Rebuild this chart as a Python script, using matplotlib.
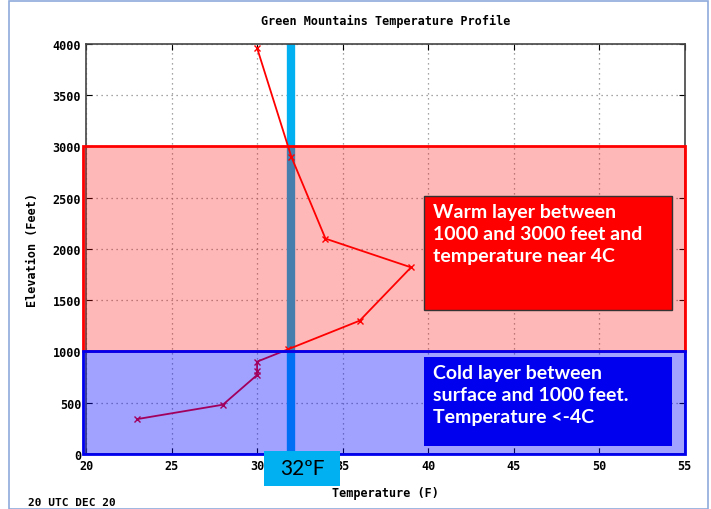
import matplotlib
matplotlib.use('Agg')
import matplotlib.pyplot as plt
from matplotlib.patches import Rectangle

# sounding values
temps_f = [23, 28, 30, 30, 30, 31.8, 36, 39, 34, 32, 30]
elev_ft = [340, 480, 770, 810, 900, 1020, 1300, 1820, 2100, 2900, 3960]

freezing_f = 32
warm_layer = (1000, 3000)
cold_layer = (0, 1000)
x_ticks = [20, 25, 30, 35, 40, 45, 50, 55]
y_ticks = [0, 500, 1000, 1500, 2000, 2500, 3000, 3500, 4000]

warm_text = 'Warm layer between\n1000 and 3000 feet and\ntemperature near 4C'
cold_text = 'Cold layer between\nsurface and 1000 feet.\nTemperature <-4C'

mono = {'family': 'DejaVu Sans Mono', 'weight': 'bold'}

fig = plt.figure(figsize=(7.11, 5.10), dpi=100)
ax = fig.add_axes([0.121, 0.108, 0.842, 0.804])
ax.set_xlim(20, 55)
ax.set_ylim(0, 4000)
ax.set_xticks(x_ticks)
ax.set_yticks(y_ticks)
ax.grid(True, linestyle=(0, (1, 3)), color='#888888', linewidth=0.9)
ax.tick_params(direction='in', top=True, right=True, length=4, labelsize=8.5)
for lab in ax.get_xticklabels() + ax.get_yticklabels():
    lab.set_fontfamily('DejaVu Sans Mono')
    lab.set_fontweight('bold')
for s in ax.spines.values():
    s.set_color('#444444')
    s.set_linewidth(1.2)

# freezing line and the profile sit under the shaded layers
ax.axvline(freezing_f, color='#00B0F0', linewidth=6, zorder=2)
ax.plot(temps_f, elev_ft, color='red', marker='x', markersize=5, markeredgewidth=1,
        linewidth=1.3, zorder=3)

ax.add_patch(Rectangle((19.8, warm_layer[0]), 55 - 19.8, warm_layer[1] - warm_layer[0],
                       facecolor=(1, 0, 0, 0.28), edgecolor='red', linewidth=2,
                       zorder=4, clip_on=False))
ax.add_patch(Rectangle((19.8, cold_layer[0]), 55 - 19.8, cold_layer[1] - cold_layer[0],
                       facecolor=(0, 0, 1, 0.37), edgecolor='#0000EE', linewidth=2,
                       zorder=4, clip_on=False))

ax.set_title('Green Mountains Temperature Profile', fontsize=8.5, pad=14, **mono)
ax.set_xlabel('Temperature (F)', fontsize=8.5, labelpad=10, **mono)
ax.set_ylabel('Elevation (Feet)', fontsize=8.5, labelpad=10, **mono)

# annotation boxes
fig.add_artist(Rectangle((424 / 711, 1 - 311 / 510), 248 / 711, 114 / 510,
                         transform=fig.transFigure, facecolor='#FF0000',
                         edgecolor='#333333', linewidth=1, zorder=5))
fig.text(433 / 711, 1 - 204 / 510, warm_text, color='white', fontsize=14,
         fontweight='bold', family='Lato', va='top', linespacing=1.35, zorder=6)
fig.add_artist(Rectangle((424 / 711, 1 - 447 / 510), 248 / 711, 89 / 510,
                         transform=fig.transFigure, facecolor='#0000EE',
                         edgecolor='none', zorder=5))
fig.text(433 / 711, 1 - 365 / 510, cold_text, color='white', fontsize=14,
         fontweight='bold', family='Lato', va='top', linespacing=1.35, zorder=6)

fig.add_artist(Rectangle((264 / 711, 1 - 487 / 510), 76 / 711, 35 / 510,
                         transform=fig.transFigure, facecolor='#00B0F0',
                         edgecolor='none', zorder=5))
fig.text(302 / 711, 1 - 469 / 510, '32ºF', color='black', fontsize=15,
         family='Lato', ha='center', va='center', zorder=6)

fig.text(28 / 711, 1 - 503 / 510, '20 UTC DEC 20', fontsize=8, va='center', **mono)

# thin frame round the whole picture
fig.add_artist(Rectangle((9 / 711, 0.0), 699 / 711, 1 - 2 / 510,
                         transform=fig.transFigure, facecolor='none',
                         edgecolor='#8FAADC', linewidth=1.2))

fig.savefig('out.png', dpi=100)
